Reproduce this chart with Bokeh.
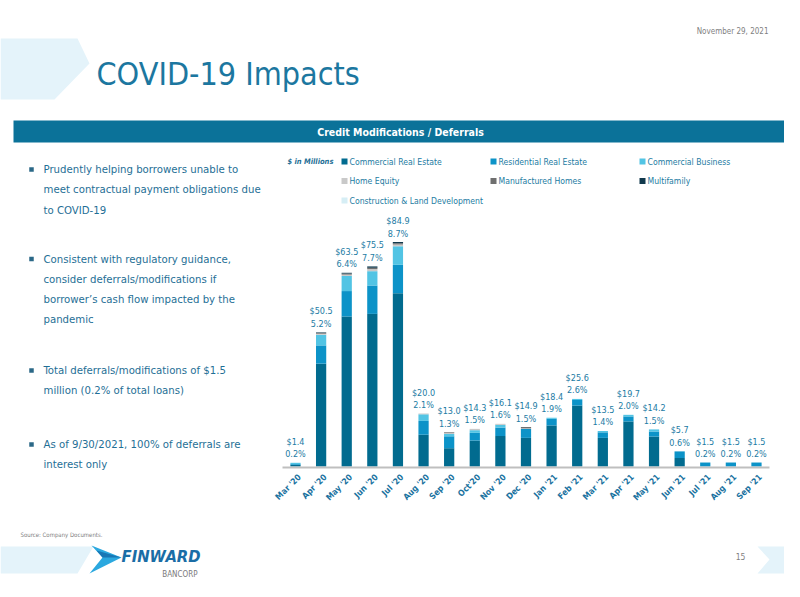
import math
from bokeh.plotting import figure
from bokeh.models import Range1d, ColumnDataSource
from bokeh.embed import file_html
from bokeh.resources import INLINE
from bokeh.core.properties import value

# ---------------- data ----------------
months = ["Mar '20", "Apr '20", "May '20", "Jun '20", "Jul '20", "Aug '20", "Sep '20",
          "Oct'20", "Nov '20", "Dec '20", "Jan '21", "Feb '21", "Mar '21", "Apr '21",
          "May '21", "Jun '21", "Jul '21", "Aug '21", "Sep '21"]

series_names = ["Commercial Real Estate", "Residential Real Estate", "Commercial Business",
                "Home Equity", "Manufactured Homes", "Multifamily",
                "Construction & Land Development"]

commercial_re = [0.6, 38.8, 56.6, 57.6, 65.4, 12.0, 6.9, 9.8, 11.5, 10.8, 15.5, 23.0, 10.8, 17.0, 11.3, 3.2, 0.0, 0.0, 0.0]
residential_re = [0.3, 6.9, 9.6, 10.7, 10.7, 5.2, 4.5, 2.9, 3.2, 3.4, 2.5, 2.1, 2.1, 1.9, 1.9, 2.5, 1.5, 1.5, 1.5]
commercial_bus = [0.5, 4.0, 5.7, 5.4, 7.0, 2.5, 0.9, 1.0, 1.0, 0.0, 0.4, 0.4, 0.5, 0.6, 0.8, 0.0, 0.0, 0.0, 0.0]
home_equity = [0.0, 0.4, 0.5, 0.8, 0.7, 0.3, 0.3, 0.5, 0.4, 0.2, 0.0, 0.0, 0.0, 0.0, 0.0, 0.0, 0.0, 0.0, 0.0]
manufactured = [0.0, 0.3, 0.4, 0.5, 0.4, 0.0, 0.3, 0.0, 0.0, 0.5, 0.0, 0.0, 0.0, 0.0, 0.0, 0.0, 0.0, 0.0, 0.0]
multifamily = [0.0, 0.2, 0.3, 0.5, 0.5, 0.0, 0.0, 0.0, 0.0, 0.0, 0.0, 0.0, 0.0, 0.0, 0.0, 0.0, 0.0, 0.0, 0.0]
construction = [0.0] * 19

amount_labels = ["$1.4", "$50.5", "$63.5", "$75.5", "$84.9", "$20.0", "$13.0", "$14.3", "$16.1",
                 "$14.9", "$18.4", "$25.6", "$13.5", "$19.7", "$14.2", "$5.7", "$1.5", "$1.5", "$1.5"]
pct_labels = ["0.2%", "5.2%", "6.4%", "7.7%", "8.7%", "2.1%", "1.3%", "1.5%", "1.6%", "1.5%",
              "1.9%", "2.6%", "1.4%", "2.0%", "1.5%", "0.6%", "0.2%", "0.2%", "0.2%"]

bullets = [
    ["Prudently helping borrowers unable to", "meet contractual payment obligations due", "to COVID-19"],
    ["Consistent with regulatory guidance,", "consider deferrals/modifications if",
     "borrower\u2019s cash flow impacted by the", "pandemic"],
    ["Total deferrals/modifications of $1.5", "million (0.2% of total loans)"],
    ["As of 9/30/2021, 100% of deferrals are", "interest only"],
]

# ---------------- styles ----------------
colors = ["#016B8F", "#0C93C8", "#52C4E4", "#C9C9C9", "#6F6F6F", "#10384C", "#D6EEF5"]
TEAL = "#1C77A0"
FONT = "'DejaVu Sans Condensed', Roboto, sans-serif"

W, H = 784, 581
OX, OY = 0, 0   # page origin of the figure as photographed
p = figure(width=W, height=H, output_backend="svg", toolbar_location=None,
           x_range=Range1d(OX, OX + W), y_range=Range1d(OY + H, OY),
           x_axis_type=None, y_axis_type=None, min_border=0,
           outline_line_color=None, background_fill_color="white",
           border_fill_color="white")
p.grid.visible = False

# chart scales (month index / $ millions)
x0_px, dx_px = 295.0, 25.61
base_px, ppv = 466.0, 2.65
u = 1.0 / dx_px
xs0 = -(x0_px - OX) * u
p.extra_x_ranges = {"m": Range1d(start=xs0, end=xs0 + W * u)}
p.extra_y_ranges = {"v": Range1d(start=-(OY + H - base_px) / ppv, end=(base_px - OY) / ppv)}

# ---------------- decorations ----------------
p.patch([0, 77, 89, 54, 0], [38, 38, 63, 99, 99], fill_color="#E4F3FA", line_color=None)
p.patch([0, 93, 77, 0], [546, 546, 573, 573], fill_color="#E4F3FA", line_color=None)
p.patch([757, 800, 800, 757, 769], [546, 546, 573, 573, 559], fill_color="#E4F3FA", line_color=None)

p.text(x=[768], y=[31], text=["November 29, 2021"], text_font=value(FONT), text_font_size="8px",
       text_color="#7F7F7F", text_align="right", text_baseline="middle")
p.text(x=[96], y=[73], text=["COVID-19 Impacts"], text_font=value(FONT), text_font_size="32px",
       text_color=TEAL, text_align="left", text_baseline="middle")

p.quad(left=[13], right=[784], top=[120], bottom=[142], fill_color="#0B7299", line_color=None)
p.text(x=[400], y=[131.5], text=["Credit Modifications / Deferrals"], text_font=value(FONT),
       text_font_size="10.5px", text_font_style="bold", text_color="white",
       text_align="center", text_baseline="middle")

# bullets
bullet_tops = [169, 258.5, 370, 444]
line_step = 20.3
bx, by, tx, ty, tt = [], [], [], [], []
for top, lines in zip(bullet_tops, bullets):
    bx.append(31)
    by.append(top)
    for k, line in enumerate(lines):
        tx.append(43)
        ty.append(top + k * line_step)
        tt.append(line)
p.rect(x=bx, y=by, width=4.5, height=4.5, fill_color="#2B6887", line_color=None)
p.text(x=tx, y=ty, text=tt, text_font=value(FONT), text_font_size="11.3px",
       text_color="#1F6F96", text_align="left", text_baseline="middle")

# footer
p.text(x=[20], y=[534], text=["Source: Company Documents."], text_font=value(FONT),
       text_font_size="6px", text_color="#808080", text_align="left", text_baseline="middle")
p.patch([91, 121, 89, 102], [545, 557, 573, 557], fill_color="#2BA8DF", line_color=None)
p.patch([96, 121, 102], [550, 557, 557], fill_color="#1877B5", line_color=None)
p.text(x=[121], y=[556], text=["FINWARD"], text_font=value(FONT), text_font_size="16.5px",
       text_font_style="bold italic", text_color="#1A6DA6", text_align="left",
       text_baseline="middle")
p.text(x=[197], y=[574], text=["BANCORP"], text_font=value(FONT), text_font_size="8px",
       text_color="#7A7A7A", text_align="right", text_baseline="middle")
p.text(x=[740], y=[556], text=["15"], text_font=value(FONT), text_font_size="8.5px",
       text_color="#7F7F7F", text_align="center", text_baseline="middle")

# ---------------- legend ----------------
leg_sq_x = [344, 493, 642, 344, 493, 642, 344]
leg_y = [161, 161, 161, 180.5, 180.5, 180.5, 200]
p.rect(x=leg_sq_x, y=leg_y, width=6, height=6, fill_color=colors, line_color=None)
p.text(x=[s + 5 for s in leg_sq_x], y=leg_y, text=series_names, text_font=value(FONT),
       text_font_size="8.6px", text_color="#237BA2", text_align="left", text_baseline="middle")
p.text(x=[287], y=[161], text=["$ in Millions"], text_font=value(FONT), text_font_size="7.5px",
       text_font_style="bold italic", text_color="#1F6F96", text_align="left",
       text_baseline="middle")

# ---------------- stacked bars ----------------
idx = list(range(len(months)))
keys = ["cre", "rre", "cb", "he", "mh", "mf", "cld"]
src = ColumnDataSource(dict(x=idx, cre=commercial_re, rre=residential_re, cb=commercial_bus,
                            he=home_equity, mh=manufactured, mf=multifamily, cld=construction))
p.vbar_stack(keys, x="x", width=0.40, fill_color=colors, line_color=None, source=src,
             x_range_name="m", y_range_name="v")

totals = [sum(v) for v in zip(commercial_re, residential_re, commercial_bus, home_equity,
                              manufactured, multifamily, construction)]

p.segment(x0=[282], y0=[467], x1=[769], y1=[467], line_color="#BFBFBF", line_width=2)

p.text(x=idx, y=totals, text=amount_labels, x_range_name="m", y_range_name="v",
       y_offset=-21, text_font=value(FONT), text_font_size="9px", text_color="#1C7BA4",
       text_align="center", text_baseline="middle")
p.text(x=idx, y=totals, text=pct_labels, x_range_name="m", y_range_name="v",
       y_offset=-8.5, text_font=value(FONT), text_font_size="9px", text_color="#1C7BA4",
       text_align="center", text_baseline="middle")

p.text(x=idx, y=[0] * len(idx), text=months, x_range_name="m", y_range_name="v",
       x_offset=4, y_offset=9, angle=math.pi / 4, text_font=value(FONT),
       text_font_size="8.5px", text_font_style="bold", text_color="#1A72A0",
       text_align="right", text_baseline="middle")

open("out.html", "w").write(file_html(p, INLINE))
